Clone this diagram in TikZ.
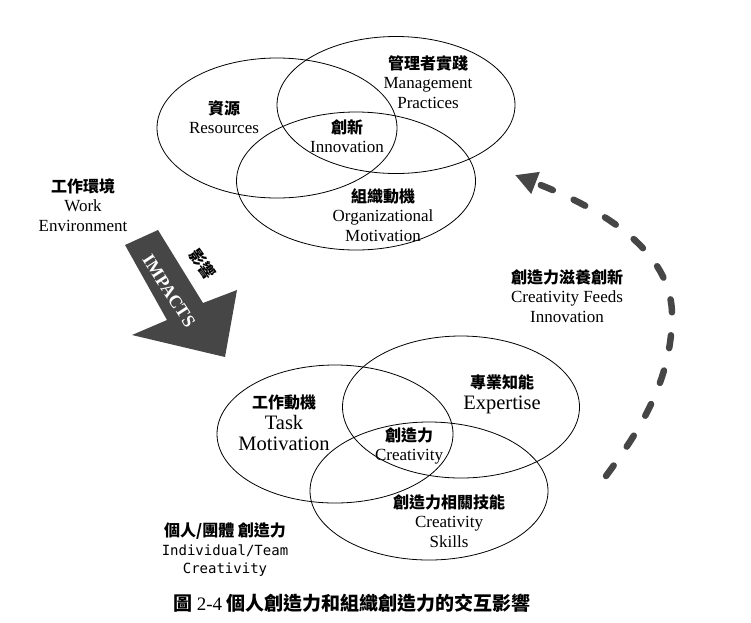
\documentclass[tikz,border=0pt]{standalone}
\usepackage{fontspec}
\setmainfont{Liberation Serif}
\newfontfamily\cjk{Noto Sans CJK TC}
\newfontfamily\monofam{DejaVu Sans Mono}
\usetikzlibrary{shapes.geometric,arrows.meta}
\definecolor{arrowgray}{RGB}{70,70,70}
\newcommand\zh[1]{{\cjk\bfseries\fontsize{16}{19}\selectfont #1}}
\newcommand\zhcap[1]{{\cjk\bfseries\fontsize{19}{22}\selectfont #1}}
\tikzset{
  ell/.style={ellipse, draw, line width=0.8pt, inner sep=0pt},
  lbl/.style={align=center, inner sep=0pt, font=\fontsize{17}{19.5}\selectfont},
  lblbig/.style={align=center, inner sep=0pt, font=\fontsize{20.5}{21}\selectfont},
  monolbl/.style={align=center, inner sep=0pt, font=\monofam\fontsize{14}{18.5}\selectfont},
  dasharc/.style={line width=6.5pt, draw=arrowgray, line cap=round,
    dash pattern=on 13pt off 23pt, -{Triangle[length=22pt,width=22pt]}}
}
\begin{document}
\begin{tikzpicture}[x=1pt,y=-1pt]
\useasboundingbox (0,0) rectangle (751,622);
% top Venn
\node[ell,minimum width=240pt,minimum height=140pt] (res) at (277,128) {};
\node[ell,minimum width=238pt,minimum height=137pt] (mgt) at (396,105) {};
\node[ell,minimum width=239pt,minimum height=138pt] (org) at (356,181) {};
% bottom Venn
\node[ell,minimum width=236pt,minimum height=138pt] (task) at (335,434) {};
\node[ell,minimum width=237pt,minimum height=142pt] (exp) at (461,407) {};
\node[ell,minimum width=238pt,minimum height=138pt] (skl) at (429,491) {};
% labels top
\node[lbl] (tmgt) at (428,82) {\zh{管理者實踐}\\Management\\Practices};
\node[lbl] (tres) at (224,117) {\zh{資源}\\Resources};
\node[lbl] (tinn) at (347,136) {\zh{創新}\\Innovation};
\node[lbl] (torg) at (383,215) {\zh{組織動機}\\Organizational\\Motivation};
\node[lbl] (twork) at (83,205) {\zh{工作環境}\\Work\\Environment};
\node[lbl] (tfeed) at (567,296) {\zh{創造力滋養創新}\\Creativity Feeds\\Innovation};
% labels bottom
\node[lblbig] (ttask) at (284,423) {\zh{工作動機}\\Task\\Motivation};
\node[lblbig] (texp) at (502,394) {\zh{專業知能}\\Expertise};
\node[lbl] (tcre) at (409,446) {\zh{創造力}\\Creativity};
\node[lbl] (tskl) at (449,521) {\zh{創造力相關技能}\\Creativity\\Skills};
\node[monolbl] (tind) at (225,550) {\zh{個人/團體 創造力}\\Individual/Team\\Creativity};
% big arrow
\fill[arrowgray] (125,245) -- (158,230) -- (203,303) -- (237,290) -- (225,357) -- (132,335) -- (167,320) -- cycle;
\node[rotate=-57, text=white, inner sep=0pt, font=\bfseries\fontsize{18}{18}\selectfont] (imp) at (169,291) {IMPACTS};
\node[rotate=-55, inner sep=0pt] (yx) at (203,264) {\zh{影響}};
% dashed feedback arc
\coordinate (arcS) at (606,476);
\coordinate (arcM) at (672,315);
\coordinate (arcE) at (515,175);
\draw[dasharc] (arcS) .. controls (640,430) and (672,380) .. (arcM) .. controls (672,250) and (600,208) .. (arcE);
% caption
\node[inner sep=0pt, font=\fontsize{19}{22}\selectfont] (cap) at (352,603) {\zhcap{圖} 2-4 \zhcap{個人創造力和組織創造力的交互影響}};
\end{tikzpicture}
\end{document}
